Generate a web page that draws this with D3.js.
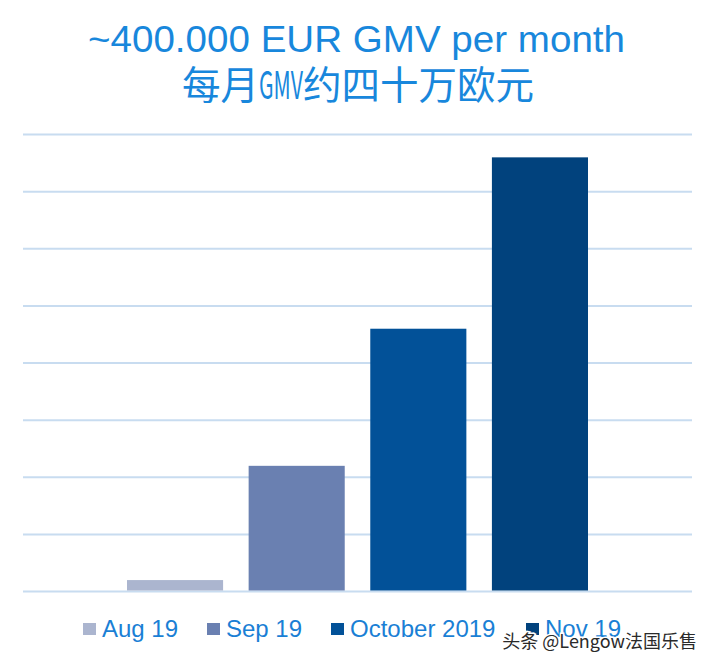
<!DOCTYPE html>
<html>
<head>
<meta charset="utf-8">
<script src="https://cdn.jsdelivr.net/npm/d3@7"></script>
<style>
    body { margin: 0; background: #fff; }
    svg { display: block; }
</style>
</head>
<body>
<div id="chart"></div>
<script>
// chart values (EUR GMV per month)
let months = ["Aug 19", "Sep 19", "October 2019", "Nov 19"];
let gmv = [10000, 110000, 230000, 380000];
let colors = ["#abb5cf", "#6a80b1", "#025198", "#01427d"];
let gridTicks = [0, 50000, 100000, 150000, 200000, 250000, 300000, 350000, 400000];

let width = 715, height = 667;

let svg = d3.select("#chart").append("svg")
    .attr("width", width)
    .attr("height", height);

// title
let title = svg.append("g")
    .attr("fill", "#1887dc");

title.append("text")
    .attr("x", 88)
    .attr("y", 52)
    .attr("textLength", 537)
    .attr("lengthAdjust", "spacingAndGlyphs")
    .style("font-family", "Arial, 'Liberation Sans', sans-serif")
    .style("font-size", "37px")
    .text("~400.000 EUR GMV per month");

let line2 = title.append("text")
    .attr("x", 182)
    .attr("y", 99)
    .style("font-family", "'Noto Sans CJK SC', sans-serif")
    .style("font-size", "38.5px");
line2.append("tspan").text("每月");
line2.append("tspan")
    .attr("textLength", 44)
    .attr("lengthAdjust", "spacingAndGlyphs")
    .text("GMV");
line2.append("tspan").text("约四十万欧元");

// scales
let x = d3.scaleBand()
    .domain(months)
    .range([23, 692])
    .paddingInner(0.21)
    .paddingOuter(0.855);

let y = d3.scaleLinear()
    .domain([0, 400000])
    .range([591.5, 134.5]);

// gridlines
svg.append("g")
    .selectAll("line")
    .data(gridTicks)
    .join("line")
    .attr("x1", 23)
    .attr("x2", 692)
    .attr("y1", d => y(d))
    .attr("y2", d => y(d))
    .attr("stroke", "#c8dcf0")
    .attr("stroke-width", 2);

// bars
svg.append("g")
    .selectAll("rect")
    .data(months)
    .join("rect")
    .attr("x", d => x(d))
    .attr("width", x.bandwidth())
    .attr("y", (d, i) => y(gmv[i]))
    .attr("height", (d, i) => y(0) - y(gmv[i]) - 1)
    .attr("fill", (d, i) => colors[i]);

// legend
let legendX = [83, 207, 331, 526];
let legend = svg.append("g")
    .selectAll("g")
    .data(months)
    .join("g")
    .attr("transform", (d, i) => `translate(${legendX[i]},621)`);

legend.append("rect")
    .attr("y", 2)
    .attr("width", 13)
    .attr("height", 12)
    .attr("fill", (d, i) => colors[i]);

legend.append("text")
    .attr("x", 19)
    .attr("y", 16)
    .attr("fill", "#1a7fd5")
    .style("font-family", "Arial, 'Liberation Sans', sans-serif")
    .style("font-size", "24px")
    .text(d => d);

// watermark
svg.append("text")
    .attr("x", 697)
    .attr("y", 648)
    .attr("text-anchor", "end")
    .attr("fill", "#2a2a2a")
    .attr("stroke", "#ffffff")
    .attr("stroke-width", 3)
    .attr("paint-order", "stroke")
    .style("font-family", "'Noto Sans CJK SC', sans-serif")
    .style("font-size", "18px")
    .text("头条 @Lengow法国乐售");
</script>
</body>
</html>
